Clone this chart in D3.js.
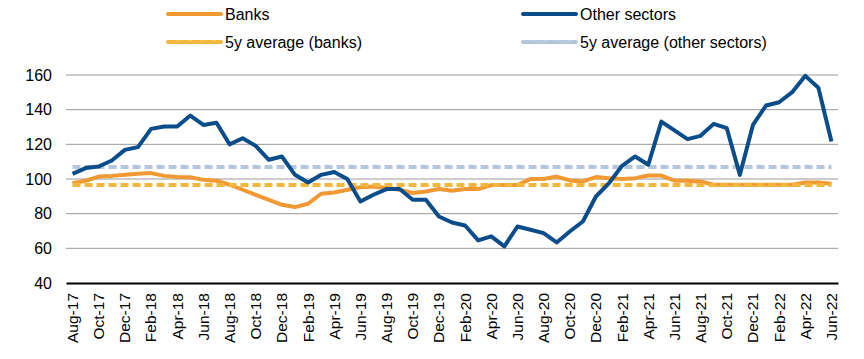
<!DOCTYPE html>
<head>
  <meta charset="utf-8">
  <script src="https://d3js.org/d3.v7.min.js"></script>
  <style>
    body { margin: 0; background: #fff; }
    text { font-family: Arial, "Liberation Sans", sans-serif; fill: #000; }
  </style>
</head>
<body>
  <div id="graph"></div>
  <script>
    // monthly, Aug-17 .. Jun-22
    var months = ["Aug-17","Sep-17","Oct-17","Nov-17","Dec-17","Jan-18","Feb-18","Mar-18","Apr-18","May-18","Jun-18","Jul-18",
      "Aug-18","Sep-18","Oct-18","Nov-18","Dec-18","Jan-19","Feb-19","Mar-19","Apr-19","May-19","Jun-19","Jul-19",
      "Aug-19","Sep-19","Oct-19","Nov-19","Dec-19","Jan-20","Feb-20","Mar-20","Apr-20","May-20","Jun-20","Jul-20",
      "Aug-20","Sep-20","Oct-20","Nov-20","Dec-20","Jan-21","Feb-21","Mar-21","Apr-21","May-21","Jun-21","Jul-21",
      "Aug-21","Sep-21","Oct-21","Nov-21","Dec-21","Jan-22","Feb-22","Mar-22","Apr-22","May-22","Jun-22"];

    var banks = [97.6,99,101.4,101.8,102.4,103,103.4,101.8,101.1,101,99.5,99,
      96.7,93.8,90.9,88,85.1,83.8,85.7,91.5,92.2,93.8,95.3,95.7,
      94.8,93.8,91.9,92.8,94.2,93.2,94.2,94.2,96.5,96.5,96.5,100,
      100,101.4,99.2,98.6,101.1,100.5,100,100.5,102,102,99,99,
      98.6,96.7,96.7,96.7,96.7,96.7,96.7,96.7,98,98,97.2];

    var others = [103,106.3,107.2,110.7,116.8,118.4,128.9,130.3,130.3,136.6,131.2,132.5,
      120,123.5,119.1,111.1,113,102.4,98,102.4,104,100,87,90.9,
      94.2,94.2,88,88,78.4,74.9,73.2,64.6,66.9,61.1,72.6,70.7,
      68.8,63.4,69.7,75.5,89.9,97.6,107.6,113,108.2,133.1,128,123,
      124.9,131.8,129.3,102.4,131.2,142.4,144.3,150.1,159.5,152.7,121.6];

    var avgBanks = 96.5;
    var avgOthers = 106.9;
    var yTicks = [40, 60, 80, 100, 120, 140, 160];

    var width = 864, height = 359;
    var svg = d3.select("#graph").append("svg")
      .attr("width", width)
      .attr("height", height);

    var xmin = 66, xmax = 838, ytop = 75, ybot = 283;
    var font = "Arial, 'Liberation Sans', sans-serif";

    var x = d3.scaleBand().domain(months).range([xmin, xmax]).padding(0);
    var y = d3.scaleLinear().domain([40, 160]).range([ybot, ytop]);
    var cx = function(m) { return x(m) + x.bandwidth() / 2; };

    // grid
    svg.append("g").selectAll("line")
      .data(yTicks.filter(function(d) { return d > 40; })).enter()
      .append("line")
      .attr("x1", xmin).attr("x2", xmax)
      .attr("y1", function(d) { return y(d); })
      .attr("y2", function(d) { return y(d); })
      .attr("stroke", "#9a9a9a")
      .attr("stroke-width", 1);

    // y axis
    var yAxis = d3.axisLeft(y).tickValues(yTicks).tickSize(0).tickPadding(14);
    var gy = svg.append("g").attr("transform", "translate(" + xmin + ",0)").call(yAxis);
    gy.select(".domain").remove();
    gy.selectAll("text").style("font-size", "16px").style("font-family", font);

    // x axis
    var xAxis = d3.axisBottom(x)
      .tickValues(months.filter(function(d, i) { return i % 2 === 0; }))
      .tickSize(0);
    var gx = svg.append("g").attr("transform", "translate(0," + ybot + ")").call(xAxis);
    gx.select(".domain").attr("stroke", "#000").attr("stroke-width", 2);
    gx.selectAll("text")
      .style("font-size", "15.5px")
      .style("font-family", font)
      .attr("transform", "rotate(-90)")
      .attr("text-anchor", "end")
      .attr("x", -10)
      .attr("y", 0)
      .attr("dy", "0.35em");

    var line = d3.line()
      .x(function(d, i) { return cx(months[i]); })
      .y(function(d) { return y(d); });

    // averages
    svg.append("path")
      .datum(months.map(function() { return avgOthers; }))
      .attr("d", line).attr("fill", "none")
      .attr("stroke", "#b4c8dd").attr("stroke-width", 4)
      .attr("stroke-dasharray", "8,4");

    svg.append("path")
      .datum(banks)
      .attr("d", line).attr("fill", "none")
      .attr("stroke", "#f19a34").attr("stroke-width", 4)
      .attr("stroke-linejoin", "round");

    svg.append("path")
      .datum(months.map(function() { return avgBanks; }))
      .attr("d", line).attr("fill", "none")
      .attr("stroke", "#f3b63e").attr("stroke-width", 4)
      .attr("stroke-dasharray", "8,4");

    svg.append("path")
      .datum(others)
      .attr("d", line).attr("fill", "none")
      .attr("stroke", "#0b4d8a").attr("stroke-width", 4)
      .attr("stroke-linejoin", "round");

    // legend
    var legend = [
      { name: "Banks", color: "#f19a34", dash: null, x: 168, y: 14 },
      { name: "Other sectors", color: "#0b4d8a", dash: null, x: 523, y: 14 },
      { name: "5y average (banks)", color: "#f3b63e", dash: "9,3", x: 168, y: 42 },
      { name: "5y average (other sectors)", color: "#b4c8dd", dash: "9,3", x: 523, y: 42 }
    ];
    var lg = svg.append("g").selectAll("g").data(legend).enter().append("g")
      .attr("transform", function(d) { return "translate(" + d.x + "," + d.y + ")"; });
    lg.append("line")
      .attr("x1", 0).attr("x2", 53).attr("y1", 0).attr("y2", 0)
      .attr("stroke", function(d) { return d.color; })
      .attr("stroke-width", 4)
      .attr("stroke-linecap", "round")
      .attr("stroke-dasharray", function(d) { return d.dash; });
    lg.append("text")
      .attr("x", 57).attr("dy", "0.35em")
      .style("font-size", "16px")
      .text(function(d) { return d.name; });
  </script>
</body>
